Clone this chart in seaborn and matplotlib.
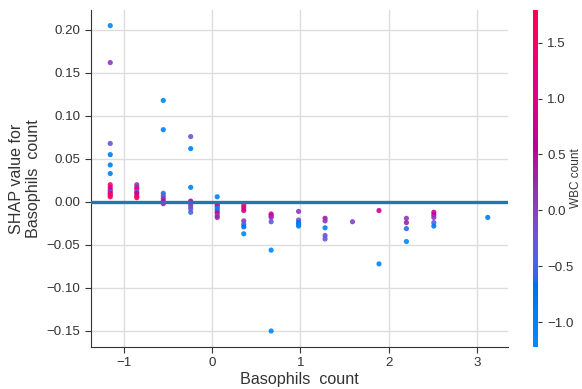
import numpy as np
import pandas as pd
import matplotlib
matplotlib.use('Agg')
import matplotlib.pyplot as plt
import seaborn as sns
from matplotlib.colors import ListedColormap, Normalize
from matplotlib.cm import ScalarMappable

# basophils count (standardised), one level per column of dots
basophil_levels = [-1.15, -0.85, -0.55, -0.24, 0.06, 0.36, 0.67, 0.98, 1.28, 1.59, 1.89, 2.20, 2.51, 3.12]

# SHAP values for each column
shap_by_level = [
    [0.205, 0.162, 0.068, 0.055, 0.043, 0.033, 0.020, 0.017, 0.014, 0.012, 0.010, 0.008, 0.006],
    [0.020, 0.017, 0.015, 0.012, 0.010, 0.007, 0.005],
    [0.118, 0.084, 0.010, 0.007, 0.004, 0.001, -0.002],
    [0.076, 0.062, 0.017, 0.001, -0.002, -0.005, -0.008, -0.012],
    [0.006, -0.003, -0.005, -0.007, -0.009, -0.011, -0.013, -0.016, -0.018],
    [-0.004, -0.007, -0.010, -0.022, -0.026, -0.029, -0.037],
    [-0.014, -0.016, -0.018, -0.023, -0.056, -0.150],
    [-0.011, -0.021, -0.024, -0.026, -0.028],
    [-0.019, -0.022, -0.030, -0.039, -0.043],
    [-0.023],
    [-0.010, -0.072],
    [-0.019, -0.024, -0.031, -0.046],
    [-0.012, -0.015, -0.018, -0.024, -0.028],
    [-0.018],
]

# WBC count (standardised) used for the colour of each dot
wbc_by_level = [
    [-1.1, 0.1, -0.2, -0.9, -1.0, -1.0, 1.4, 1.2, 0.6, -0.1, 0.9, 1.5, 1.6],
    [0.1, 0.2, 1.3, -0.2, 0.6, 1.0, 1.6],
    [-1.1, -1.0, -0.6, -0.4, 0.2, 0.5, 0.3],
    [-0.3, -1.0, -1.0, 0.6, 0.2, 0.0, -0.2, -0.5],
    [-1.0, 1.3, 0.8, -1.1, -0.9, -0.6, 0.9, 0.0, 0.3],
    [1.5, 1.0, 0.9, 0.1, -0.5, -0.7, -1.1],
    [0.9, 0.5, 0.2, -0.3, -1.1, -1.1],
    [0.1, -0.3, -0.7, -0.9, -1.0],
    [0.4, 0.1, -1.0, -0.2, -0.3],
    [0.0],
    [0.8, -1.1],
    [0.1, 0.3, -0.6, -1.1],
    [0.9, 0.6, 0.1, -0.4, -0.8],
    [-0.9],
]

wbc_min, wbc_max = -1.22, 1.79

rows = []
for lvl, ys, cs in zip(basophil_levels, shap_by_level, wbc_by_level):
    for y, c in zip(ys, cs):
        rows.append((lvl, y, c))
df = pd.DataFrame(rows, columns=['basophils', 'shap', 'wbc'])


# shap style red/blue colour map, interpolated in LCH space
def lch2rgb(l, c, h):
    a = c * np.cos(h)
    b = c * np.sin(h)
    fy = (l + 16) / 116
    fx = fy + a / 500
    fz = fy - b / 200

    def finv(t):
        return np.where(t ** 3 > 0.008856, t ** 3, (t - 16 / 116) / 7.787)

    x = 0.95047 * finv(fx)
    y = finv(fy)
    z = 1.08883 * finv(fz)
    r = 3.2406 * x - 1.5372 * y - 0.4986 * z
    g = -0.9689 * x + 1.8758 * y + 0.0415 * z
    bb = 0.0557 * x - 0.2040 * y + 1.0570 * z
    rgb = np.clip(np.array([r, g, bb]), 0, None)
    rgb = np.where(rgb > 0.0031308, 1.055 * rgb ** (1 / 2.4) - 0.055, 12.92 * rgb)
    return np.clip(rgb, 0, 1)


nsteps = 100
l_vals = list(np.linspace(54, 40, nsteps // 2)) + list(np.linspace(40, 54, nsteps // 2))
c_vals = np.linspace(70, 90, nsteps)
h_vals = np.linspace(4.6588, 0.35470565 + 2 * np.pi, nsteps)
red_blue = ListedColormap([lch2rgb(l, c, h) for l, c, h in zip(l_vals, c_vals, h_vals)])

sns.set_style('whitegrid')
plt.rcParams['font.family'] = ['Liberation Sans', 'DejaVu Sans']

fig = plt.figure(figsize=(5.82, 3.89), dpi=100)
ax = fig.add_axes([0.156, 0.108, 0.717, 0.866])
cax = fig.add_axes([0.916, 0.108, 0.009, 0.866])

norm = Normalize(vmin=wbc_min, vmax=wbc_max)
sns.scatterplot(data=df, x='basophils', y='shap', hue='wbc', palette=red_blue,
                hue_norm=norm, s=14, linewidth=0, alpha=0.9, legend=False, ax=ax, zorder=2)
ax.axhline(0, color='#1f77b4', lw=2.4, zorder=3)

ax.set_xlim(-1.37, 3.35)
ax.set_ylim(-0.1686, 0.223)
ax.grid(True, color='#dddddd', lw=1)
ax.set_axisbelow(True)
for side in ['top', 'right']:
    ax.spines[side].set_visible(False)
for side in ['left', 'bottom']:
    ax.spines[side].set_color('#333333')
    ax.spines[side].set_linewidth(0.8)
ax.tick_params(left=True, bottom=True, length=4, width=0.8, color='#333333',
               labelcolor='#333333', labelsize=9.6)
ax.set_xlabel('Basophils  count', fontsize=11.6, color='#333333', labelpad=2)
ax.set_ylabel('SHAP value for\nBasophils  count', fontsize=11.6, color='#333333', labelpad=4)

cb = fig.colorbar(ScalarMappable(norm=norm, cmap=red_blue), cax=cax)
cb.outline.set_visible(False)
cb.ax.tick_params(length=3, width=0.8, color='#333333', labelcolor='#333333', labelsize=9.6)
cb.set_label('WBC count', fontsize=8.5, color='#333333', labelpad=-3)

plt.savefig('out.png', dpi=100)
